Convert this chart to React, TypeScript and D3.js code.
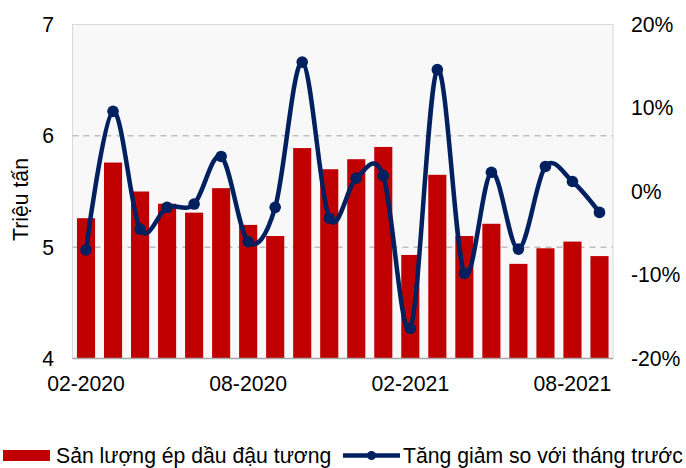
import React from "react";
import * as d3 from "d3";

const months = ["02-2020","03-2020","04-2020","05-2020","06-2020","07-2020","08-2020","09-2020","10-2020","11-2020","12-2020","01-2021","02-2021","03-2021","04-2021","05-2021","06-2021","07-2021","08-2021","09-2021"];
const production = [5.26,5.76,5.50,5.39,5.31,5.53,5.20,5.10,5.89,5.70,5.79,5.90,4.93,5.65,5.10,5.21,4.85,4.99,5.05,4.92];
const change = [-7.0,9.6,-4.5,-1.9,-1.5,4.2,-6.0,-1.9,15.5,-3.2,1.6,1.9,-16.4,14.6,-9.8,2.3,-6.9,3.0,1.2,-2.5];
const leftTicks = [4,5,6,7];
const rightTicks = [-20,-10,0,10,20];
const xLabels = ["02-2020","08-2020","02-2021","08-2021"];
const barName = "Sản lượng ép dầu đậu tương";
const lineName = "Tăng giảm so với tháng trước";
const yTitle = "Triệu tấn";

const W = 686, H = 468;
const L = 72.5, R = 613, T = 24.5, B = 358.5;
const FONT = "Liberation Sans, Arial, sans-serif";
const FS = 21.2;
const RED = "#c00000";
const NAVY = "#002060";

export default function App() {
  const x = d3.scaleBand<string>().domain(months).range([L, R]).paddingInner(0.33).paddingOuter(0.165);
  const yL = d3.scaleLinear().domain([4, 7]).range([B, T]);
  const yR = d3.scaleLinear().domain([-20, 20]).range([B, T]);
  const cx = (m: string) => (x(m) as number) + x.bandwidth() / 2;
  const pts: [number, number][] = months.map((m, i) => [cx(m), yR(change[i])]);
  const line = d3.line().curve(d3.curveCardinal.tension(0))(pts) as string;

  return (
    <svg width={W} height={H} style={{ position: "absolute", left: 0, top: 0, background: "#fff" }} fontFamily={FONT}>
      <rect x={L} y={T} width={R - L} height={B - T} fill="#f8f8f8" stroke="#d9d9d9" strokeWidth={1} />
      {[5, 6].map((v) => (
        <line key={v} x1={L} x2={R} y1={yL(v)} y2={yL(v)} stroke="#bfbfbf" strokeWidth={1.5} strokeDasharray="6,5" />
      ))}
      {months.map((m, i) => (
        <rect key={m} x={x(m)} y={yL(production[i])} width={x.bandwidth()} height={B - yL(production[i])} fill={RED} />
      ))}
      <line x1={L} x2={R} y1={B} y2={B} stroke="#a6a6a6" strokeWidth={1.5} />
      <path d={line} fill="none" stroke={NAVY} strokeWidth={4.5} />
      {pts.map((p, i) => (
        <circle key={i} cx={p[0]} cy={p[1]} r={5.8} fill={NAVY} />
      ))}
      {leftTicks.map((v) => (
        <text key={v} x={54} y={yL(v)} dy="0.35em" textAnchor="end" fontSize={FS} fill="#000">{v}</text>
      ))}
      {rightTicks.map((v) => (
        <text key={v} x={631} y={yR(v)} dy="0.35em" textAnchor="start" fontSize={FS} fill="#000">{v + "%"}</text>
      ))}
      {xLabels.map((m) => (
        <text key={m} x={cx(m)} y={391} textAnchor="middle" fontSize={FS} fill="#000">{m}</text>
      ))}
      <text transform={`translate(28,${(T + B) / 2 + 8}) rotate(-90)`} textAnchor="middle" fontSize={FS} fill="#000">{yTitle}</text>
      <rect x={3} y={450} width={47} height={11} fill={RED} />
      <text x={56} y={463} fontSize={FS} fill="#000">{barName}</text>
      <line x1={343} x2={400} y1={455.5} y2={455.5} stroke={NAVY} strokeWidth={4.5} />
      <circle cx={371.5} cy={455.5} r={4.5} fill={NAVY} />
      <text x={403} y={463} fontSize={FS} fill="#000">{lineName}</text>
    </svg>
  );
}
